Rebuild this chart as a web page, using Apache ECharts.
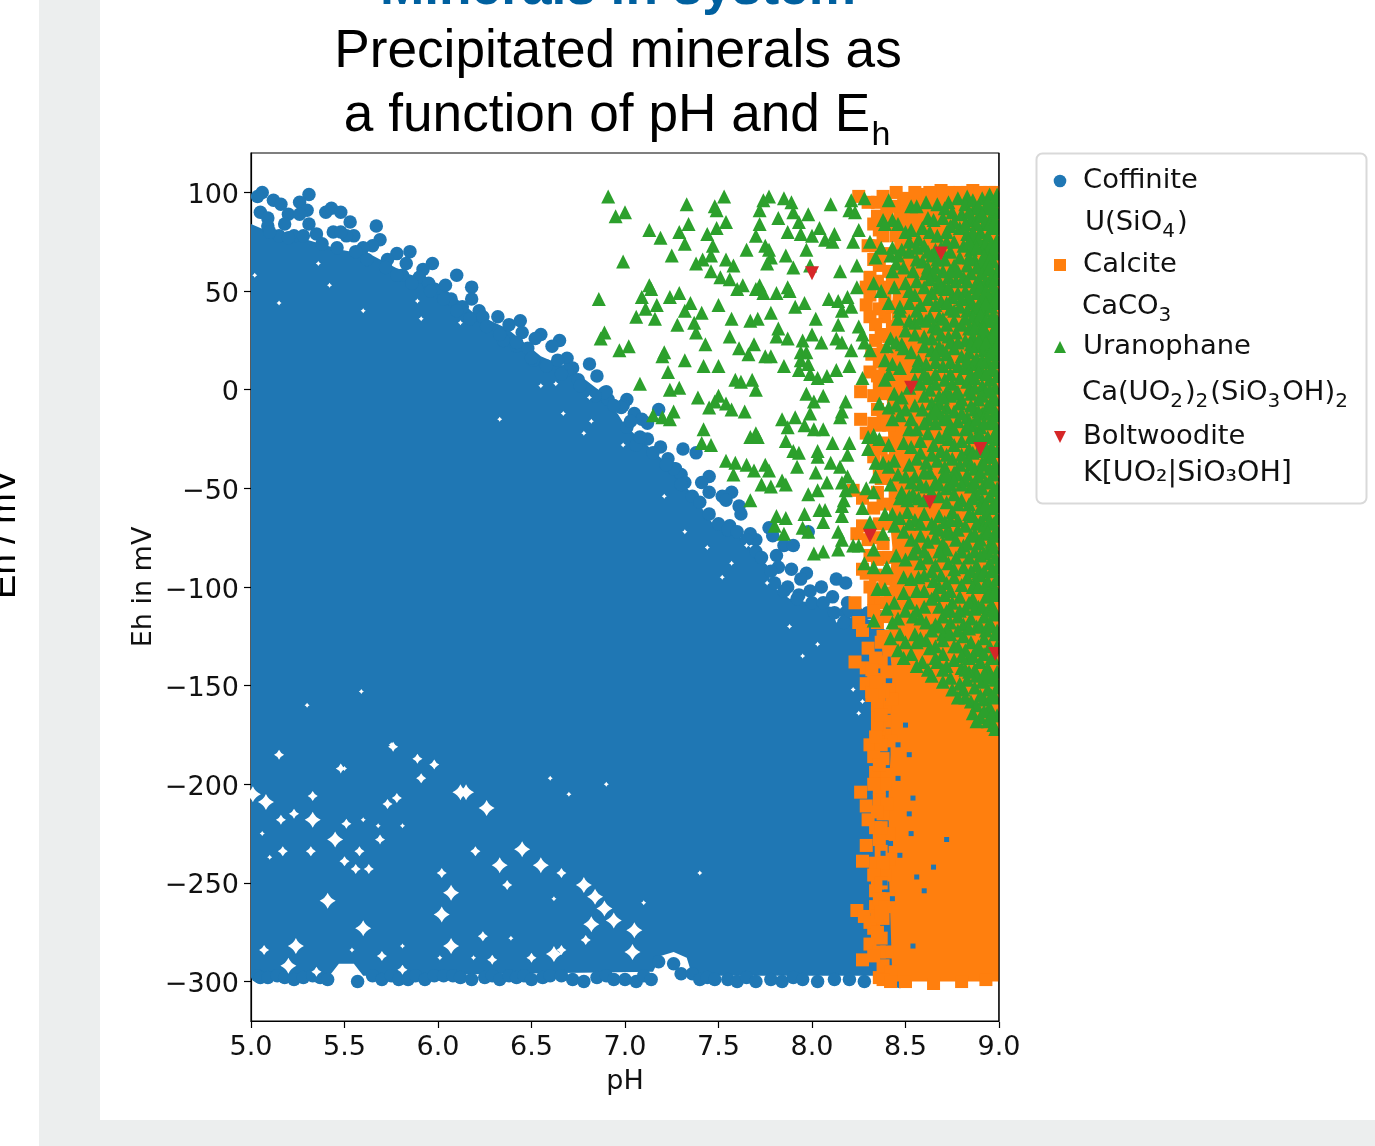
<!DOCTYPE html>
<html><head><meta charset="utf-8">
<style>
html,body{margin:0;padding:0;background:#fff;overflow:hidden}
#g1{position:absolute;left:39px;top:0;width:61px;height:1146px;background:#eceeee}
#g2{position:absolute;left:39px;top:1120px;width:1336px;height:26px;background:#eceeee}
#main{position:absolute;left:0;top:0;width:1375px;height:1146px}
</style>
<script src="https://cdn.jsdelivr.net/npm/echarts@6/dist/echarts.min.js"></script>
</head><body><div id="g1"></div><div id="g2"></div><div id="main"></div>
<script>
const xTicks=[5,5.5,6,6.5,7,7.5,8,8.5,9];
const yTicks=[-300,-250,-200,-150,-100,-50,0,50,100];

// Dense, fully overlapped interior of each mineral field, read as an outline from the picture
const coffiniteField=[[5,84],[5.1,80],[5.3,76],[5.48,71],[5.65,68],[5.83,59],[6.0,54],[6.19,39],[6.37,31],[6.55,17],[6.72,10],[6.9,-3],[7.0,-18],[7.22,-37],[7.35,-52],[7.47,-68],[7.61,-74],[7.76,-89],[7.78,-99],[7.88,-106],[8.10,-110],[8.13,-118],[8.22,-115],[8.29,-116],[8.45,-125],[8.5,-297],[7.36,-297],[7.33,-288],[7.26,-285],[7.19,-287],[7.15,-295],[5.6,-297],[5.55,-291],[5.47,-291],[5.42,-297],[5,-297]];
const calciteField=[[8.43,-145],[8.41,-125],[8.41,-105],[8.43,-80],[8.41,-60],[8.41,-30],[8.40,-5],[8.42,20],[8.43,45],[8.44,60],[8.44,85],[8.5,98],[9,98],[9,-300],[8.43,-300],[8.42,-270],[8.41,-240],[8.41,-205],[8.42,-185],[8.42,-165]];

const coffinite=[[5.06,100],[5.035,98],[5.12,96],[5.16,94],[5.31,99],[5.26,95],[5.30,91],[5.20,89],[5.26,89],[5.05,90],[5.40,90],[5.43,92],[5.48,90],[5.53,85],[5.31,84],[5.09,87],[5.09,83],[5.18,84],[5.67,83],[5.69,76],[5.65,73],[5.60,72],[5.55,78],[5.51,78],[5.44,80],[5.48,80],[5.35,79],[5.23,78],[5.15,78],[5.85,70],[5.78,69],[5.83,64],[5.73,66],[5.97,64],[5.92,61],[6.10,58],[5.90,57],[5.81,58],[5.95,54],[6.04,53],[6.18,52],[6.18,46],[6.07,46],[6.13,42],[6.22,40],[6.24,37],[6.32,37],[6.38,33],[6.44,35],[6.45,29],[6.55,28],[6.52,26],[6.65,25],[6.61,22],[6.42,22],[6.48,21],[6.51,15],[6.35,25],[6.69,16],[6.81,13],[6.64,15],[6.72,11],[6.69,10],[6.85,7],[6.75,5],[6.90,-1],[7.01,-5],[6.99,-8],[7.05,-12],[7.01,-19],[6.91,-5],[6.89,-1.5],[6.98,-9],[7.09,-15],[7.12,-17],[7.18,-10],[7.12,-25],[7.19,-29],[7.31,-30],[7.38,-32],[7.23,-35],[7.27,-40],[7.06,-28],[7.45,-44],[7.41,-47],[7.45,-52],[7.57,-52],[7.52,-54],[7.54,-56],[7.61,-59],[7.62,-63],[7.56,-69],[7.77,-70],[7.79,-74],[7.98,-72],[7.85,-79],[7.90,-79],[7.81,-84],[7.70,-76],[7.67,-73],[7.82,-90],[7.89,-91],[7.97,-93],[7.94,-96],[8.13,-96],[8.18,-98],[7.87,-100],[7.93,-104],[7.99,-102],[8.05,-100],[8.11,-105],[8.19,-108],[8.18,-113],[7.30,-43],[7.32,-47],[7.26,-40],[8.36,-115],[8.31,-120],[8.17,-118],
[5.1,80],[5.2,77],[5.28,78],[5.38,74],[5.46,72],[5.56,70],[5.62,66],[5.72,62],[5.78,58],[5.86,54],[5.96,50],[6.03,46],[6.1,40],[6.17,36],[6.26,32],[6.33,28],[6.42,24],[6.5,16],[6.58,12],[6.66,8],[6.76,2],[6.84,-3],[6.94,-8],[7.03,-16],[7.08,-24],[7.15,-32],[7.22,-38],[7.3,-48],[7.36,-54],[7.4,-57],[7.45,-63],[7.5,-68],[7.55,-71],[7.6,-72],[7.65,-76],[7.7,-82],[7.73,-85],[7.78,-92],[7.8,-98],[7.85,-102],[7.92,-106],[8.0,-108],[8.06,-108],[8.12,-113],[8.2,-112],[8.25,-114],[8.3,-113],
[5.035,-297],[5.05,-298],[5.09,-298],[5.14,-297],[5.18,-298],[5.23,-299],[5.28,-298],[5.33,-297],[5.37,-298],[5.41,-299],[5.57,-300],[5.65,-297],[5.7,-299],[5.75,-297],[5.79,-299],[5.84,-299],[5.88,-297],[5.93,-299],[5.98,-297],[6.03,-297],[6.08,-297],[6.12,-298],[6.18,-299],[6.25,-298],[6.29,-297],[6.33,-299],[6.38,-297],[6.42,-298],[6.46,-297],[6.5,-299],[6.56,-298],[6.6,-297],[6.66,-297],[6.72,-299],[6.78,-300],[6.85,-298],[6.9,-297],[6.94,-299],[7.0,-299],[7.06,-300],[7.1,-297],[7.14,-299],[7.26,-291],[7.18,-290],[7.3,-296],[7.36,-296],[7.4,-299],[7.44,-298],[7.48,-299],[7.55,-299],[7.6,-300],[7.65,-298],[7.7,-300],[7.78,-299],[7.84,-300],[7.9,-298],[7.95,-299],[8.03,-300],[8.12,-299],[8.2,-299],[8.28,-300],[8.47,-300]];

// Uncovered specks left inside the dense Coffinite field, three sizes
const gapSmall=[[5.15,44],[5.42,53],[5.36,64],[5.02,58],[5.89,45],[5.60,40],[5.91,36],[6.12,34],[6.55,2],[6.63,3],[6.81,-4],[6.82,-16],[6.33,-15],[6.67,-12],[6.78,-22],[6.99,-28],[7.44,-80],[7.65,-79],[7.32,-72],[7.21,-54],[7.57,-88],[7.52,-95],[7.76,-98],[7.88,-120],[8.03,-129],[7.95,-135],[8.22,-152],[8.27,-158],[8.25,-164],[5.75,-180],[5.98,-191],[5.5,-192],[5.59,-153],[5.6,-218],[5.68,-221],[5.81,-221],[5.1,-237],[5.06,-225],[5.54,-284],[5.81,-282],[6.39,-278],[6.62,-258],[6.19,-288],[6.01,-288],[7.1,-260],[7.4,-245],[5.3,-160],[6.9,-200],[6.6,-197],[6.7,-205]];
const gapMed=[[5.15,-185],[5.48,-192],[5.76,-181],[5.89,-187],[5.98,-190],[5.91,-197],[5.33,-206],[5.23,-215],[5.16,-218],[5.51,-220],[5.69,-228],[5.73,-210],[5.78,-207],[5.17,-234],[5.32,-234],[5.50,-239],[5.58,-234],[5.56,-243],[5.63,-243],[6.20,-234],[6.37,-251],[6.66,-245],[5.07,-284],[5.70,-287],[5.81,-294],[6.29,-289],[6.50,-288],[6.79,-279],[5.35,-295],[6.24,-277],[6.02,-245],[6.66,-284]];
const gapLarge=[[6.15,-204],[6.26,-212],[5.08,-209],[5.01,-205],[5.33,-218],[5.45,-228],[6.45,-233],[6.33,-241],[6.55,-241],[5.41,-259],[6.07,-255],[6.02,-266],[6.78,-251],[6.84,-257],[6.89,-263],[6.94,-269],[6.82,-271],[5.60,-273],[6.07,-282],[5.24,-282],[5.20,-292],[7.05,-274],[7.04,-285],[6.12,-204],[6.62,-286]];

const calcite=[[8.25,98],[8.30,95],[8.38,98],[8.45,100],[8.51,97],[8.59,99],[8.69,101],[8.79,100],[8.86,101],[8.95,100],[8.35,88],[8.30,73],[8.33,66],[8.36,63],[8.31,57],[8.29,52],[8.31,48],[8.29,43],[8.31,37],[8.34,25],[8.32,18],[8.31,9],[8.26,-1],[8.26,-15],[8.35,-10],[8.36,2],[8.39,37],[8.43,32],[8.41,27],[8.29,-22],[8.33,-34],[8.36,-18],[8.40,-27],[8.40,69],[8.45,78],[8.36,81],[8.49,95],[8.47,90],[8.43,54],[8.43,42],[8.39,10],[8.38,-2],[8.41,15],[8.38,52],[8.42,84],
[8.27,-69],[8.23,-108],[8.25,-118],[8.27,-122],[8.23,-138],[8.30,-131],[8.29,-141],[8.29,-149],[8.32,-153],[8.35,-164],[8.39,-161],[8.37,-138],[8.41,-132],[8.33,-106],[8.29,-93],[8.36,-101],[8.27,-55],[8.22,-51],[8.24,-73],[8.31,-84],[8.27,-91],[8.34,-94],[8.42,-103],[8.40,-143],[8.36,-147],[8.41,-152],[8.43,-157],[8.38,-153],[8.33,-60],[8.37,-45],[8.34,-75],[8.38,-85],[8.31,-100],[8.40,-115],[8.38,-125],
[8.31,-180],[8.34,-194],[8.26,-204],[8.29,-211],[8.30,-218],[8.29,-231],[8.27,-239],[8.24,-264],[8.28,-267],[8.33,-273],[8.31,-281],[8.27,-289],[8.36,-298],[8.38,-292],[8.35,-250],[8.34,-254],[8.34,-262],[8.38,-215],[8.36,-202],[8.38,-187],[8.39,-175],[8.41,-238],[8.37,-278],[8.40,-285],[8.42,-295],[8.41,-225],[8.40,-195],[8.42,-178],[8.38,-268],[8.41,-258],[8.36,-228],[8.39,-246],[8.5,-300],[8.65,-301],[8.8,-300],[8.93,-299],
[8.35,95],[8.4,90],[8.44,93],[8.33,84],[8.38,78],[8.34,73],[8.38,68],[8.41,60],[8.35,55],[8.39,46],[8.36,41],[8.34,33],[8.37,28],[8.38,20],[8.36,14],[8.35,7],[8.40,3],[8.33,-3],[8.38,-12],[8.33,-17],[8.41,-18],[8.37,-30],[8.34,-28],[8.40,-36],[8.36,-40],[8.40,-45],[8.35,-52],[8.38,-58],[8.41,-68],[8.36,-68],[8.30,-76],[8.38,-78],[8.41,-85],[8.35,-86],[8.39,-96],[8.37,-108],[8.33,-112],[8.40,-108],[8.35,-118],[8.37,-128],[8.34,-136],[8.32,-142],[8.33,-147],[8.36,-155],[8.39,-168],[8.36,-172],[8.55,100],[8.63,100],[8.73,100],[8.83,100],[8.9,100],[8.98,100],[8.35,-170],[8.37,-180],[8.33,-186],[8.39,-200],[8.36,-208],[8.40,-210],[8.34,-222],[8.37,-222],[8.34,-240],[8.38,-240],[8.36,-258],[8.39,-262],[8.31,-270],[8.35,-267],[8.36,-285],[8.33,-287],[8.38,-299],[8.42,-300],
[8.35,-160],[8.34,-176],[8.36,-190],[8.33,-200],[8.35,-214],[8.37,-234],[8.33,-246],[8.37,-250],[8.35,-275],[8.37,-265],[8.32,-155],[8.34,-148],[8.37,-165]];
// Coffinite still showing through the Calcite squares
const coffiniteThrough=[[8.54,-207],[8.52,-215],[8.38,-235],[8.42,-230],[8.65,-242],[8.72,-228],[8.56,-247],[8.60,-254],[8.39,-250],[8.54,-282],[8.46,-197],[8.52,-185],[8.43,-258],[8.47,-236],[8.53,-225],[8.46,-180],[8.5,-170]];

const uranophane=[[6.91,98],[6.95,88],[7.0,90],[7.33,94],[7.53,98],[7.48,93],[7.49,91],[7.74,96],[7.77,98],[7.72,91],[7.85,97],[7.89,95],[7.90,90],[7.82,87],[7.98,89],[7.93,85],[8.10,94],[8.21,96],[8.28,97],[8.20,91],[8.23,90],[7.13,81],[7.19,77],[7.29,80],[7.34,84],[7.32,74],[7.44,79],[7.49,82],[7.54,85],[7.47,73],[7.72,84],[7.70,78],[7.65,71],[7.87,80],[7.94,79],[8.0,78],[8.04,82],[8.07,76],[8.12,79],[8.11,75],[8.22,75],[8.25,81],[7.75,73],[7.77,71],[7.78,67],[7.76,64],[7.86,68],[7.97,71],[7.90,62],[7.99,63],[8.15,60],[8.24,63],[6.99,65],[7.25,68],[7.38,64],[7.415,66],[7.46,68],[7.54,66],[7.58,63],[7.46,60],[7.51,57],[7.56,56],[7.13,53],[7.14,51],[7.09,47],[7.24,47],[7.29,49],[7.35,44],[6.86,46],[7.17,43],[7.11,41],[7.06,37],[7.16,36],[7.32,40],[7.41,39],[7.37,34],[7.28,33],[7.38,29],[7.50,43],[7.57,36],[7.60,51],[7.63,53],[7.70,51],[7.72,53],[7.74,49],[7.81,49],[7.87,52],[7.88,50],[7.91,42],[7.96,44],[7.78,39],[7.67,35],[7.71,36],[8.02,36],[8.09,46],[8.14,45],[8.19,47],[8.21,42],[8.16,40],[8.24,52],[8.14,33],[8.25,32],[6.89,29],[6.87,26],[6.97,20],[7.02,22],[7.21,19],[7.20,17],[7.43,23],[7.56,27],[7.61,21],[7.69,23],[7.66,18],[7.75,17],[7.78,17],[7.82,31],[7.81,27],[7.87,26],[7.95,25],[8.0,28],[8.05,24],[8.13,26],[8.16,24],[8.21,20],[8.27,28],[8.28,24],[8.31,20],[7.94,19],[7.97,19],[7.94,15],[7.98,13],[7.32,15],[7.42,12],[7.50,12],[7.85,12],[7.93,10],[7.99,8],[8.03,6],[8.08,7],[8.13,10],[8.20,12],[7.23,9],[7.08,3],[7.24,0],[7.29,1],[7.39,-4],[7.59,5],[7.62,4],[7.68,5],[7.70,0],[8.27,6],[7.97,-2],[8.06,-3],[8.01,-6],[8.18,-6],[7.50,-3],[7.48,-6],[7.45,-9],[7.54,-7],[7.57,-10],[7.64,-11],[7.15,-13],[7.20,-14],[7.24,-15],[7.26,-11],[7.84,-15],[7.91,-14],[7.99,-12],[8.16,-11],[8.15,-14],[7.87,-19],[7.96,-18],[8.01,-20],[8.06,-20],[7.42,-20],[7.70,-22],[7.67,-24],[7.71,-24],[7.41,-27],[7.46,-28],[7.86,-26],[8.20,-27],[8.11,-27],[7.90,-31],[7.93,-32],[8.03,-31],[8.03,-34],[8.19,-33],[8.30,-30],
[7.54,-36],[7.59,-37],[7.65,-38],[7.69,-41],[7.75,-38],[7.77,-41],[7.92,-39],[8.02,-42],[8.10,-37],[8.15,-39],[7.58,-43],[7.73,-48],[7.78,-49],[7.84,-46],[7.86,-48],[7.67,-56],[7.98,-53],[8.03,-51],[8.08,-47],[8.16,-47],[8.19,-44],[8.22,-49],[8.18,-51],[8.17,-56],[8.16,-59],[7.81,-64],[7.86,-65],[7.96,-63],[8.04,-61],[8.07,-61],[8.06,-67],[8.16,-64],[8.27,-60],[7.80,-69],[7.85,-73],[7.95,-70],[7.98,-72],[8.14,-72],[8.16,-76],[8.14,-81],[8.01,-83],[8.06,-82],[8.22,-79],[8.25,-79],[8.28,-88],[8.33,-90],[8.40,-90],[8.33,-81],[8.31,-67],[8.38,-73],[8.44,-69],[8.39,-63],[8.29,-50],[8.33,-52],[8.34,-44],[8.41,-39],[8.34,-37],[8.42,-48],[8.47,-55],[8.51,-56],[8.54,-53],[8.61,-49],[8.49,-95],[8.35,-101],[8.39,-101],[8.49,-103],[8.60,-102],[8.66,-104],[8.44,-108],[8.40,-111],[8.33,-117],[8.43,-118],[8.46,-116],[8.54,-115],[8.61,-118],[8.42,-126],[8.47,-124],[8.55,-124],[8.49,-136],[8.53,-134],[8.59,-138],[8.62,-142],[8.61,-127],[8.63,-131],[8.70,-124],
[8.41,96],[8.53,93],[8.56,93],[8.61,95],[8.67,94],[8.71,92],[8.75,90],[8.78,97],[8.83,98],[8.87,92],[8.91,97],[8.95,99],[8.98,96],[8.93,92],[8.96,88],[8.38,86],[8.43,86],[8.62,87],[8.65,86],[8.70,87],[8.80,89],[8.85,86],[8.89,88],[8.99,90],[8.92,84],
[8.39,84],[8.50,80],[8.53,81],[8.59,82],[8.63,80],[8.67,78],[8.72,80],[8.76,75],[8.79,82],[8.83,79],[8.87,77],[8.90,80],[8.94,78],[8.97,82],[8.99,76],[8.31,75],[8.37,72],[8.43,72],[8.48,71],[8.57,76],[8.60,73],[8.69,72],[8.74,70],[8.81,73],[8.85,71],[8.91,72],[8.95,71],[8.98,69],
[8.34,67],[8.42,68],[8.45,64],[8.52,70],[8.56,66],[8.59,65],[8.64,68],[8.67,66],[8.71,66],[8.76,63],[8.79,67],[8.83,63],[8.87,66],[8.91,64],[8.94,61],[8.97,65],[8.99,60],[8.43,60],[8.49,62],[8.54,60],[8.61,59],[8.65,58],[8.70,60],[8.73,57],[8.77,55],[8.81,57],[8.85,59],[8.89,56],[8.93,55],[8.96,57],
[8.33,54],[8.37,50],[8.44,52],[8.50,54],[8.55,48],[8.60,52],[8.64,49],[8.67,52],[8.71,51],[8.75,47],[8.78,49],[8.82,50],[8.85,44],[8.88,49],[8.91,46],[8.95,47],[8.98,50],[8.41,44],[8.47,42],[8.58,43],[8.62,46],[8.66,43],[8.69,45],[8.74,41],[8.79,42],[8.83,40],[8.87,41],[8.92,40],[8.96,42],[8.99,44],
[8.47,40],[8.52,35],[8.55,34],[8.58,36],[8.61,35],[8.50,30],[8.65,32],[8.68,37],[8.72,33],[8.76,35],[8.80,33],[8.84,31],[8.88,35],[8.91,33],[8.95,35],[8.97,30],[8.69,28],[8.64,26],[8.73,27],[8.77,29],[8.82,25],[8.86,27],[8.90,26],[8.93,29],[8.99,27],[8.42,26],[8.45,24],[8.48,23],
[8.40,22],[8.49,21],[8.53,19],[8.60,22],[8.64,20],[8.68,22],[8.72,18],[8.76,21],[8.80,17],[8.84,19],[8.88,22],[8.92,20],[8.96,23],[8.99,18],[8.39,15],[8.43,13],[8.47,11],[8.57,15],[8.61,13],[8.66,14],[8.70,12],[8.74,14],[8.78,12],[8.82,11],[8.86,13],[8.90,11],[8.94,14],[8.97,10],
[8.41,8],[8.39,5],[8.55,5],[8.58,3],[8.62,6],[8.66,8],[8.71,5],[8.75,3],[8.79,6],[8.83,4],[8.87,6],[8.91,2],[8.95,5],[8.98,1],[8.63,0],[8.68,-3],[8.72,-1],[8.77,-2],[8.80,-5],[8.85,-2],[8.89,-5],[8.93,-1],[8.97,-4],[8.44,-2],[8.48,-4],[8.52,1],
[8.36,-7],[8.41,-9],[8.45,-8],[8.50,-10],[8.55,-8],[8.59,-10],[8.64,-7],[8.68,-12],[8.72,-9],[8.76,-11],[8.79,-7],[8.83,-14],[8.87,-10],[8.91,-12],[8.94,-8],[8.98,-11],[8.43,-15],[8.47,-13],[8.53,-15],[8.62,-15],[8.66,-17],[8.70,-15],[8.74,-18],[8.78,-16],[8.82,-20],[8.86,-18],[8.90,-19],[8.95,-17],[8.99,-20],
[8.30,-24],[8.33,-23],[8.36,-25],[8.41,-28],[8.49,-27],[8.53,-29],[8.58,-26],[8.62,-22],[8.65,-28],[8.69,-31],[8.73,-25],[8.76,-28],[8.80,-26],[8.84,-30],[8.88,-24],[8.92,-27],[8.96,-29],[8.99,-25],[8.38,-37],[8.44,-36],[8.52,-38],[8.56,-35],[8.61,-37],[8.67,-36],[8.71,-39],[8.75,-35],[8.79,-38],[8.83,-36],[8.87,-40],[8.91,-37],[8.94,-34],[8.98,-38],
[8.46,-43],[8.55,-44],[8.58,-48],[8.63,-42],[8.66,-47],[8.70,-44],[8.74,-48],[8.78,-43],[8.82,-46],[8.85,-49],[8.89,-44],[8.93,-47],[8.97,-43],[8.99,-50],[8.48,-52],[8.52,-54],[8.57,-55],[8.68,-54],[8.72,-57],[8.76,-53],[8.80,-56],[8.84,-58],[8.88,-53],[8.91,-56],[8.95,-54],[8.98,-59],
[8.43,-63],[8.47,-65],[8.51,-62],[8.55,-66],[8.60,-63],[8.64,-68],[8.68,-64],[8.71,-67],[8.75,-62],[8.78,-66],[8.82,-69],[8.86,-64],[8.90,-67],[8.93,-63],[8.97,-68],[8.49,-72],[8.53,-76],[8.58,-74],[8.62,-77],[8.66,-75],[8.70,-78],[8.74,-73],[8.77,-76],[8.81,-79],[8.85,-74],[8.89,-78],[8.92,-73],[8.96,-77],[8.99,-72],
[8.45,-84],[8.50,-86],[8.54,-83],[8.58,-88],[8.62,-85],[8.66,-89],[8.70,-84],[8.73,-88],[8.77,-85],[8.81,-90],[8.84,-85],[8.88,-89],[8.92,-83],[8.95,-88],[8.98,-85],[8.53,-96],[8.57,-95],[8.65,-97],[8.69,-94],[8.72,-98],[8.76,-95],[8.80,-99],[8.83,-95],[8.87,-98],[8.90,-94],[8.94,-97],[8.97,-99],
[8.52,-108],[8.56,-112],[8.64,-106],[8.68,-110],[8.71,-104],[8.75,-108],[8.79,-105],[8.82,-111],[8.86,-106],[8.89,-110],[8.93,-105],[8.96,-109],[8.99,-104],[8.58,-116],[8.66,-119],[8.70,-115],[8.74,-118],[8.78,-115],[8.81,-119],[8.85,-116],[8.88,-120],[8.92,-115],[8.95,-118],[8.98,-114],
[8.56,-128],[8.66,-130],[8.70,-127],[8.74,-124],[8.78,-130],[8.81,-125],[8.85,-128],[8.88,-132],[8.92,-126],[8.95,-130],[8.98,-124],[8.67,-138],[8.72,-140],[8.76,-137],[8.80,-141],[8.84,-136],[8.87,-142],[8.90,-138],[8.94,-141],[8.97,-136],[8.79,-149],[8.83,-147],[8.87,-151],[8.91,-148],[8.94,-152],[8.98,-147],
[8.81,-152],[8.85,-158],[8.88,-160],[8.92,-157],[8.95,-161],[8.98,-156],[8.90,-166],[8.94,-168],[8.97,-170],[8.99,-165],
[8.82,94],[8.86,96],[8.89,93],[8.94,95],[8.97,92],[8.99,99],[8.84,90],[8.88,84],[8.91,89],[8.95,84],[8.98,86],[8.82,84],[8.86,80],[8.89,76],[8.93,74],[8.96,74],[8.99,82],[8.84,75],[8.88,72],[8.92,68],[8.95,66],[8.98,73],[8.84,67],[8.88,62],[8.91,59],[8.95,62],[8.98,56],[8.83,55],[8.87,52],[8.90,52],[8.93,50],[8.97,53],[8.99,47],[8.84,47],[8.89,43],[8.93,44],[8.97,38],[8.99,35],[8.86,37],[8.90,38],[8.93,35],[8.82,36],[8.87,31],[8.92,31],[8.96,27],[8.99,31],[8.85,23],[8.89,25],[8.93,24],[8.97,20],[8.99,23],[8.83,15],[8.88,16],[8.91,15],[8.95,18],[8.98,14],[8.85,8],[8.89,9],[8.93,8],[8.96,11],[8.99,7],[8.84,0],[8.87,1],[8.91,-3],[8.95,0],[8.98,-5],[8.85,-8],[8.89,-11],[8.93,-12],[8.96,-9],[8.99,-13],[8.84,-18],[8.88,-15],[8.92,-17],[8.97,-16],[8.85,-24],[8.90,-23],[8.94,-24],[8.98,-22],[8.86,-32],[8.89,-31],[8.93,-31],[8.96,-34],[8.99,-31],[8.85,-38],[8.90,-42],[8.92,-38],[8.95,-40],[8.99,-40],[8.83,-43],[8.87,-47],[8.91,-50],[8.95,-46],[8.97,-51],[8.86,-55],[8.90,-60],[8.93,-58],[8.96,-60],[8.99,-56],[8.84,-63],[8.88,-68],[8.92,-69],[8.95,-66],[8.99,-65],[8.87,-73],[8.90,-76],[8.94,-72],[8.97,-74],[8.83,-78],[8.87,-82],[8.90,-84],[8.94,-82],[8.97,-80],[8.99,-90],[8.85,-92],[8.89,-93],[8.92,-92],[8.96,-92],[8.99,-96],[8.86,-100],[8.89,-100],[8.92,-100],[8.95,-103],[8.98,-102],[8.84,-108],[8.87,-111],[8.91,-110],[8.94,-112],[8.97,-111],[8.84,-121],[8.90,-120],[8.93,-122],[8.96,-120],[8.99,-122],[8.86,-135],[8.89,-130],[8.92,-134],[8.96,-136],[8.99,-130],[8.88,-145],[8.92,-144],[8.95,-146],[8.99,-143],[8.9,-155],[8.96,-155],[8.99,-151],[8.92,-163],[8.96,-165],[8.98,-172],
[8.73,95],[8.76,85],[8.74,83],[8.66,71],[8.72,75],[8.62,62],[8.68,55],[8.74,60],[8.78,60],[8.72,44],[8.76,40],[8.80,46],[8.74,24],[8.70,20],[8.78,24],[8.66,3],[8.74,8],[8.78,-1],[8.60,-3],[8.68,-7],[8.74,-3],[8.64,-12],[8.72,-22],[8.80,-12],[8.68,-24],[8.76,-20],[8.72,-33],[8.80,-33],[8.76,-42],[8.80,-48],[8.72,-50],[8.78,-58],[8.74,-66],[8.68,-71],[8.78,-71],[8.72,-81],[8.80,-82],[8.76,-91],[8.68,-100],[8.74,-102],[8.79,-112],[8.74,-112],[8.72,-122],[8.78,-122],[8.70,-134],[8.76,-130],[8.82,-132],[8.74,-146],[8.80,-135],[8.84,-143],[8.82,-156],[8.86,-164],
[8.46,84],[8.52,75],[8.56,72],[8.46,68],[8.62,70],[8.66,62],[8.52,50],[8.56,55],[8.63,56],[8.69,52],[8.73,52],[8.46,36],[8.52,44],[8.56,40],[8.63,37],[8.67,31],[8.7,36],[8.55,28],[8.6,27],[8.66,18],[8.56,12],[8.6,8],[8.66,-10],[8.52,-20],[8.56,-20],[8.6,-17],[8.72,-14],[8.7,-4],[8.64,-33],[8.58,-32],[8.5,-44],[8.53,-47],[8.6,-42],[8.64,-52],[8.6,-56],[8.68,-48],[8.72,-43],[8.76,-46],[8.58,-68],[8.52,-68],[8.66,-70],[8.72,-72],[8.56,-80],[8.6,-82],[8.68,-82],[8.64,-92],[8.6,-94],[8.56,-102],[8.5,-112],[8.6,-110],[8.72,-112],[8.68,-120],[8.64,-122],[8.58,-126],[8.66,-136],[8.7,-142],[8.75,-152],[8.78,-156],[8.56,-140],[8.5,-128],[8.46,-132],[8.64,-145],[8.7,-148],[8.82,-142],[8.88,-168]];
const boltwoodite=[[8.0,59],[8.69,69],[8.53,1],[8.90,-30],[8.63,-57],[8.31,-74],[8.98,-134]];

const BLUE='#1f77b4',ORANGE='#ff7f0e',GREEN='#2ca02c',RED='#d62728';
const TICK='"DejaVu Sans"',TITLE='"Liberation Sans"';
const STAR='path://M0,-10 Q3,-3 10,0 Q3,3 0,10 Q-3,3 -10,0 Q-3,-3 0,-10Z';

function field(data,color,z){
  return {type:'custom',coordinateSystem:'cartesian2d',data:data,encode:{x:0,y:1},z:z,silent:true,animation:false,
    renderItem:function(params,api){
      if(params.dataIndex!==0)return;
      return {type:'polygon',shape:{points:data.map(function(p){return api.coord(p);})},style:{fill:color}};
    }};
}
function dots(data,symbol,size,color,z,rot){
  return {type:'scatter',data:data,symbol:symbol,symbolSize:size,symbolRotate:rot||0,itemStyle:{color:color,opacity:1},z:z,silent:true,animation:false,large:false,progressive:0};
}
const rich={b:{fontFamily:TICK,fontSize:27.4,lineHeight:38,color:'#111'},s:{fontFamily:TICK,fontSize:20,lineHeight:20,padding:[0,2,0,0],verticalAlign:'bottom',color:'#111'}};
function legText(x,y,t,size){return {type:'text',x:x,y:y,style:{text:t,rich:rich,verticalAlign:'middle',align:'left',fontFamily:TICK,fontSize:size||27.4,fill:'#111'},z:20};}
function bigText(x,y,t,extra){return {type:'text',x:x,y:y,style:Object.assign({text:t,fontFamily:TITLE,fontSize:53.2,fill:'#000',align:'center'},extra||{}),z:20};}

const chart=echarts.init(document.getElementById('main'),null,{renderer:'canvas'});
chart.setOption({
  animation:false,
  grid:{left:251,right:376,top:153,bottom:125,show:true,backgroundColor:'#fff',borderColor:'#000',borderWidth:1.2,containLabel:false},
  xAxis:{type:'value',min:5,max:9,name:'pH',nameLocation:'middle',nameGap:47,nameTextStyle:{fontFamily:TICK,fontSize:27,color:'#111'},
    splitLine:{show:false},axisLine:{onZero:false,lineStyle:{color:'#000',width:1.2}},
    axisTick:{customValues:xTicks,length:7,lineStyle:{color:'#000',width:1.2}},
    axisLabel:{customValues:xTicks,margin:13,fontFamily:TICK,fontSize:27,color:'#111',formatter:function(v){return v.toFixed(1);}}},
  yAxis:{type:'value',min:-320,max:120,name:'Eh in mV',nameLocation:'middle',nameGap:94,nameMoveOverlap:false,nameTextStyle:{fontFamily:TICK,fontSize:27,color:'#111'},
    splitLine:{show:false},axisLine:{onZero:false,lineStyle:{color:'#000',width:1.2}},
    axisTick:{customValues:yTicks,length:7,lineStyle:{color:'#000',width:1.2}},
    axisLabel:{customValues:yTicks,margin:12,verticalAlign:'top',lineHeight:7,fontFamily:TICK,fontSize:27,color:'#111',formatter:function(v){return String(v).replace('-','\u2212');}}},
  series:[
    field(coffiniteField,BLUE,1),
    dots(coffinite,'circle',13.5,BLUE,2),
    dots(gapSmall,STAR,5,'#fff',3),
    dots(gapMed,STAR,10,'#fff',3),
    dots(gapLarge,STAR,16,'#fff',3),
    field(calciteField,ORANGE,4),
    dots(calcite,'rect',13,ORANGE,5),
    dots(coffiniteThrough,'rect',5,BLUE,6),
    dots(uranophane,'triangle',14,GREEN,7),
    dots(boltwoodite,'triangle',14,RED,8,180)
  ],
  graphic:[
    {type:'rect',shape:{x:999.6,y:150,width:32,height:872},style:{fill:'#fff'},z:15},
    {type:'line',shape:{x1:999,y1:153,x2:999,y2:1021},style:{stroke:'#000',lineWidth:1.2},z:16},
    bigText(618,-37,'Minerals in system',{fontWeight:'bold',fill:'#00609f'}),
    bigText(618,26,'Precipitated minerals as'),
    bigText(607,90,'a function of pH and E'),
    bigText(881,119,'h',{fontSize:34}),
    {type:'text',x:5,y:534,rotation:Math.PI/2,style:{text:'Eh / mV',fontFamily:TITLE,fontSize:36.5,fill:'#000',align:'center',verticalAlign:'middle'},z:20},
    {type:'rect',shape:{x:1036.5,y:153.5,width:330,height:350,r:6},style:{fill:'#fff',stroke:'#d9d9d9',lineWidth:2},z:19},
    {type:'circle',shape:{cx:1060,cy:181,r:6.3},style:{fill:BLUE},z:20},
    {type:'rect',shape:{x:1054,y:259,width:12,height:12},style:{fill:ORANGE},z:20},
    {type:'polygon',shape:{points:[[1060,341],[1066,353],[1054,353]]},style:{fill:GREEN},z:20},
    {type:'polygon',shape:{points:[[1054,431],[1066,431],[1060,443]]},style:{fill:RED},z:20},
    legText(1083,181,'{b|Coffinite}'),
    legText(1085,223,'{b|U(SiO}{s|4}{b|)}'),
    legText(1083,265,'{b|Calcite}'),
    legText(1082,307,'{b|CaCO}{s|3}'),
    legText(1083,347,'{b|Uranophane}'),
    legText(1082,393,'{b|Ca(UO}{s|2}{b|)}{s|2}{b|(SiO}{s|3}{b|OH)}{s|2}'),
    legText(1083,437,'{b|Boltwoodite}'),
    legText(1083,474,'K[UO\u2082|SiO\u2083OH]',28.5)
  ]
});
</script></body></html>
